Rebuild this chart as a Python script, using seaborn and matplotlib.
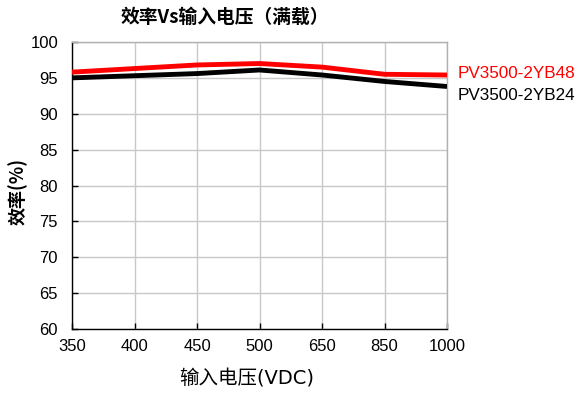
import matplotlib
matplotlib.use("Agg")
import matplotlib.pyplot as plt
import seaborn as sns
import pandas as pd

voltages = ["350", "400", "450", "500", "650", "850", "1000"]
eff_48 = [95.8, 96.3, 96.8, 97.0, 96.5, 95.5, 95.4]
eff_24 = [95.0, 95.3, 95.6, 96.1, 95.4, 94.5, 93.8]
series_names = ["PV3500-2YB48", "PV3500-2YB24"]
y_ticks = [60, 65, 70, 75, 80, 85, 90, 95, 100]

sns.set_theme(style="white")
plt.rcParams['font.family'] = ['DejaVu Sans', 'Noto Sans CJK SC']

df = pd.DataFrame({
    "x": list(range(len(voltages))) * 2,
    "eff": eff_48 + eff_24,
    "series": [series_names[0]] * len(voltages) + [series_names[1]] * len(voltages),
})

W, H = 579, 394
fig = plt.figure(figsize=(W/100, H/100), dpi=100)
ax = fig.add_axes([72/W, 1-329/H, (447-72)/W, (329-42)/H])

colors = {series_names[0]: "#ff0000", series_names[1]: "#000000"}
sns.lineplot(data=df, x="x", y="eff", hue="series", palette=colors, ax=ax,
             linewidth=3.5, legend=False, zorder=3)
for line in ax.lines:
    line.set_solid_joinstyle("round")
    line.set_solid_capstyle("butt")

ax.set_xlim(0, len(voltages) - 1)
ax.set_ylim(60, 100)
ax.set_xticks(range(len(voltages)))
ax.set_xticklabels(voltages)
ax.set_yticks(y_ticks)
ax.grid(True, color="#c8c8c8", linewidth=1)
ax.tick_params(axis="y", direction="in", length=4, width=1, color="#000000",
               labelsize=12, pad=10, labelcolor="#000000", left=True)
ax.tick_params(axis="x", direction="in", length=4, width=1, color="#000000",
               labelsize=12, pad=7, labelcolor="#000000", bottom=True)
for lab in ax.get_xticklabels() + ax.get_yticklabels():
    lab.set_family("Liberation Sans")
for side in ["left", "bottom"]:
    ax.spines[side].set_color("#000000")
    ax.spines[side].set_linewidth(1)
for side in ["top", "right"]:
    ax.spines[side].set_color("#b0b0b0")
    ax.spines[side].set_linewidth(1)
ax.set_xlabel("")
ax.set_ylabel("")

fig.text(247/W, 1-379/H, "输入电压(VDC)", fontsize=14, ha="center", va="center",
         color="#000000", family=['DejaVu Sans', 'Noto Sans CJK SC'])
fig.text(18/W, 1-191/H, "效率(%)", fontsize=13, fontweight="bold", rotation=90,
         ha="center", va="center", color="#000000",
         family=['Noto Sans CJK SC', 'DejaVu Sans'])
fig.text(225/W, 1-17/H, "效率Vs输入电压（满载）", fontsize=13.5, fontweight="bold",
         ha="center", va="center", color="#000000",
         family=['Noto Sans CJK SC', 'DejaVu Sans'])

fig.text(458/W, 1-73/H, series_names[0], color="#ff0000", fontsize=12.3,
         va="center", ha="left", family="Liberation Sans")
fig.text(458/W, 1-95/H, series_names[1], color="#000000", fontsize=12.3,
         va="center", ha="left", family="Liberation Sans")

fig.savefig("out.png", dpi=100)
